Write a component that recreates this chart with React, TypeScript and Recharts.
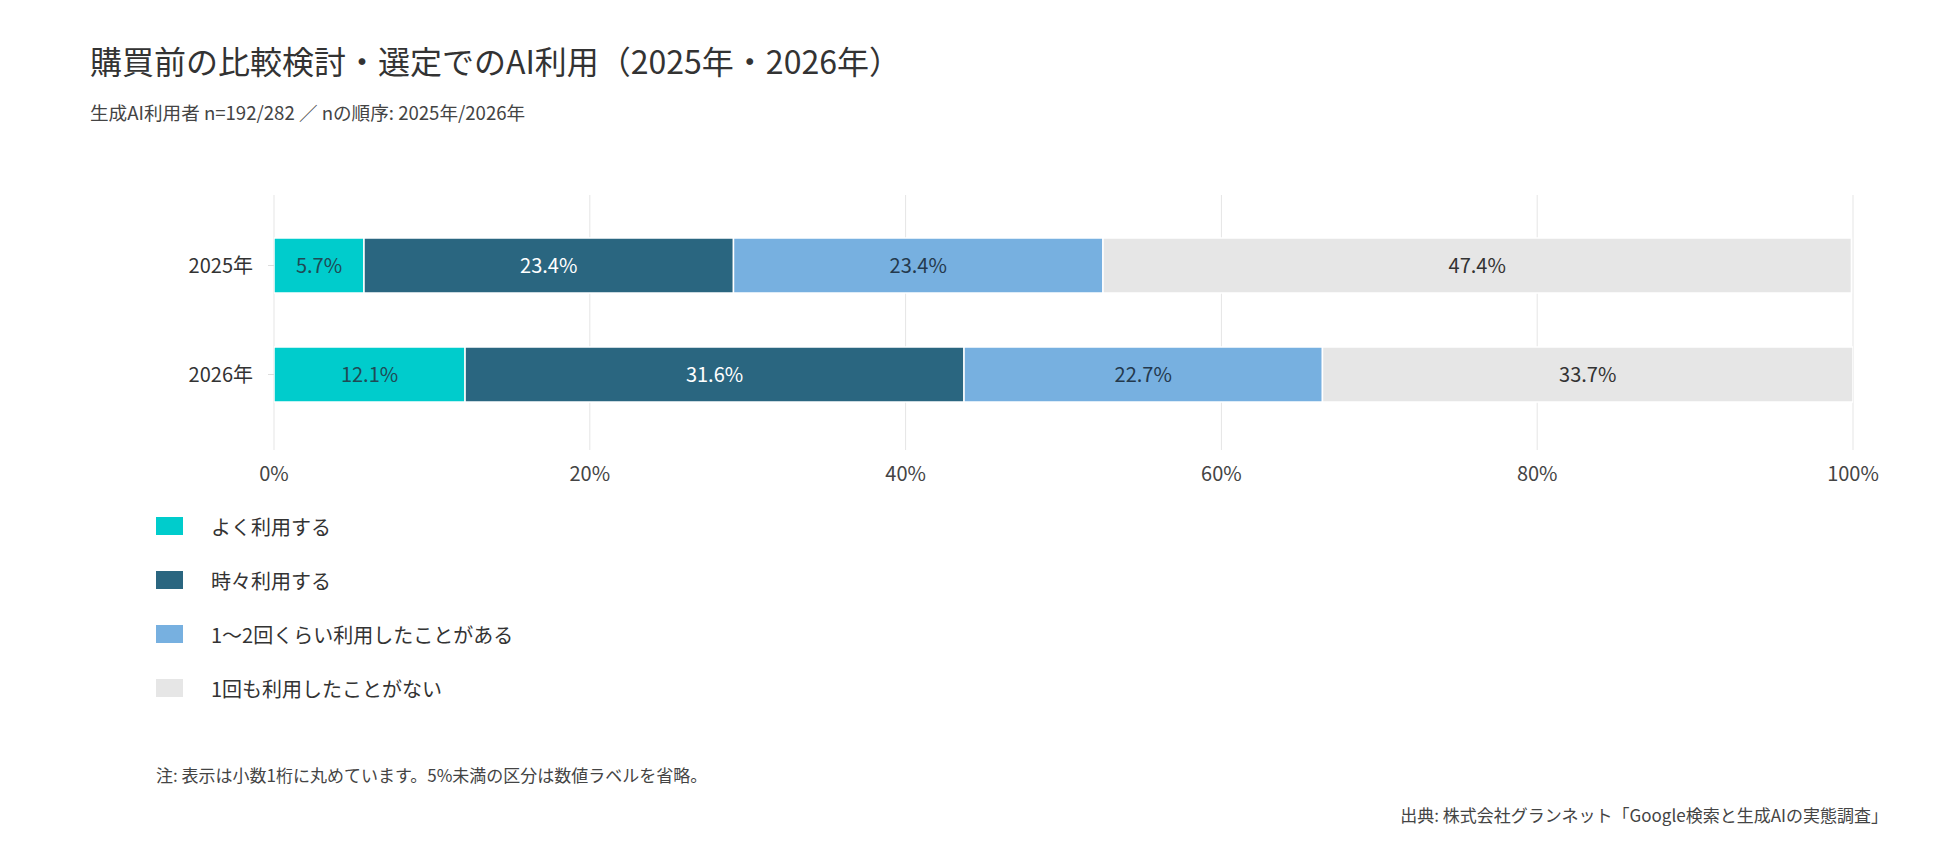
import React from "react";
import { BarChart, Bar, XAxis, YAxis, CartesianGrid, Legend, LabelList } from "recharts";

const years = ["2025年", "2026年"];
const oftenUse = [5.7, 12.1];
const sometimesUse = [23.4, 31.6];
const onceOrTwice = [23.4, 22.7];
const neverUsed = [47.4, 33.7];
const seriesKeys = ["often", "sometimes", "once", "never"];
const seriesNames = ["よく利用する", "時々利用する", "1〜2回くらい利用したことがある", "1回も利用したことがない"];
const seriesColors = ["#00CCCC", "#2A6680", "#77B0E0", "#E6E6E6"];
const labelColors = ["#1F4A55", "#FFFFFF", "#24394D", "#333333"];
const xTicks = [0, 20, 40, 60, 80, 100];

const data = years.map((year, i) => ({
  year,
  often: oftenUse[i],
  sometimes: sometimesUse[i],
  once: onceOrTwice[i],
  never: neverUsed[i],
}));

const FONT = '"Noto Sans CJK JP", "Noto Sans", sans-serif';

function LegendList({ payload }: any) {
  // keep the series order, not the alphabetical one
  const items = [...(payload || [])].sort(
    (a: any, b: any) => seriesNames.indexOf(a.value) - seriesNames.indexOf(b.value)
  );
  return (
    <div style={{ fontFamily: FONT }}>
      {items.map((p: any) => (
        <div key={p.value} style={{ display: "flex", alignItems: "center", height: 54 }}>
          <div style={{ width: 27, height: 18, background: p.color, marginRight: 28 }} />
          <span style={{ fontSize: 20, color: "#333" }}>{p.value}</span>
        </div>
      ))}
    </div>
  );
}

export default function App() {
  return (
    <div style={{ position: "absolute", left: 0, top: 0, width: 1950, height: 853, background: "#fff", fontFamily: FONT }}>
      <div style={{ position: "absolute", left: 90, top: 43, fontSize: 32, lineHeight: "34px", color: "#333", whiteSpace: "nowrap" }}>
        購買前の比較検討・選定でのAI利用（2025年・2026年）
      </div>
      <div style={{ position: "absolute", left: 90, top: 101, fontSize: 18.6, lineHeight: "22px", color: "#444", whiteSpace: "nowrap" }}>
        生成AI利用者 n=192/282 ／ nの順序: 2025年/2026年
      </div>

      <div style={{ position: "absolute", left: 0, top: 0 }}>
        <BarChart
          width={1950}
          height={853}
          data={data}
          layout="vertical"
          margin={{ top: 195, right: 97, bottom: 363, left: 0 }}
          style={{ fontFamily: FONT }}
        >
          <CartesianGrid horizontal={false} stroke="#E5E5E5" />
          <XAxis
            type="number"
            domain={[0, 100]}
            ticks={xTicks}
            allowDataOverflow
            tickFormatter={(v) => `${v}%`}
            axisLine={false}
            tickLine={false}
            tickMargin={11}
            height={40}
            tick={{ fontSize: 20, fill: "#444" }}
          />
          <YAxis
            type="category"
            dataKey="year"
            width={274}
            axisLine={false}
            tickLine={{ stroke: "#DDDDDD" }}
            tickSize={6}
            tickMargin={15}
            padding={{ top: 16, bottom: 21 }}
            tick={{ fontSize: 20, fill: "#333" }}
          />
          <Legend
            layout="vertical"
            align="center"
            verticalAlign="middle"
            wrapperStyle={{ left: 156, top: 499, width: 600 }}
            content={<LegendList />}
          />
          {seriesKeys.map((key, i) => (
            <Bar
              key={key}
              dataKey={key}
              name={seriesNames[i]}
              stackId="s"
              fill={seriesColors[i]}
              stroke="#FFFFFF"
              strokeWidth={1.5}
              barSize={55}
              isAnimationActive={false}
            >
              <LabelList
                dataKey={key}
                position="center"
                fill={labelColors[i]}
                fontSize={20}
                formatter={(v: any) => (Number(v) < 5 ? "" : `${Number(v).toFixed(1)}%`)}
              />
            </Bar>
          ))}
        </BarChart>
      </div>

      <div style={{ position: "absolute", left: 156, top: 764, fontSize: 17, lineHeight: "22px", color: "#444", whiteSpace: "nowrap" }}>
        注: 表示は小数1桁に丸めています。5%未満の区分は数値ラベルを省略。
      </div>
      <div style={{ position: "absolute", right: 62, top: 804, fontSize: 17, lineHeight: "22px", color: "#444", whiteSpace: "nowrap" }}>
        出典: 株式会社グランネット「Google検索と生成AIの実態調査」
      </div>
    </div>
  );
}
